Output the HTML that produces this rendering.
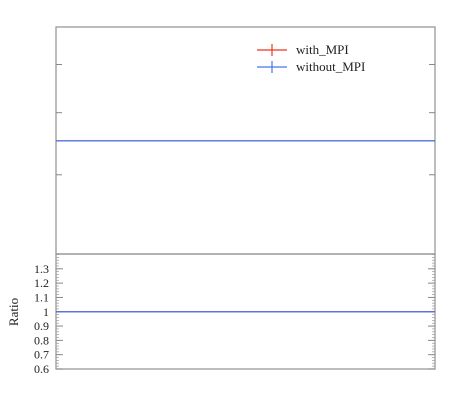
<!DOCTYPE html>
<html><head><meta charset="utf-8"><style>
html,body{margin:0;padding:0;background:#fff}
svg{display:block;font-family:"Liberation Serif",serif}
</style></head><body>
<svg id="chart" width="450" height="407">
<g id="g"></g>
</svg>
<script>
const seriesNames=["with_MPI","without_MPI"];
const seriesColors=["#ee3322","#4477ee"];
const mainValues=[3.51,3.51];
const mainTicks=[5,4,3];
const ratioValues=[1,1];
const ratioTicks=[0.6,0.7,0.8,0.9,1,1.1,1.2,1.3];
const ratioTickLabels=["0.6","0.7","0.8","0.9","1","1.1","1.2","1.3"];
const L=56,R=435,T=27,M=254,B=369;
const yMain=v=>411.9-497*Math.log10(v);
const yRatio=v=>369-(v-0.6)*(369-254.5)/0.8;
const g=document.getElementById('g');const NS="http://www.w3.org/2000/svg";
function el(t,a,p){const e=document.createElementNS(NS,t);for(const k in a)e.setAttribute(k,a[k]);(p||g).appendChild(e);return e;}
// frames
let f1=el('rect',{x:L,y:T,width:R-L,height:M-T,fill:'none',stroke:'#999','stroke-width':1.3});


let f2=el('rect',{x:L,y:M,width:R-L,height:B-M,fill:'none',stroke:'#999','stroke-width':1.3});


// main ticks
mainTicks.forEach(v=>{const y=yMain(v);
 let a=el('line',{x1:L,x2:L+6,y1:y,y2:y,stroke:'#888'});
 
 
 let b=el('line',{x1:R-6,x2:R,y1:y,y2:y,stroke:'#888'});
 
 });
// ratio minor ticks
for(let i=0;i<=40;i++){const v=0.6+i*0.02;const y=yRatio(v);
 let a=el('line',{x1:L,x2:L+3,y1:y,y2:y,stroke:'#999','stroke-width':0.7});
 
 
 let b=el('line',{x1:R-3,x2:R,y1:y,y2:y,stroke:'#999','stroke-width':0.7});
 
 }
ratioTicks.forEach((v,i)=>{const y=yRatio(v);
 let a=el('line',{x1:L,x2:L+7,y1:y,y2:y,stroke:'#888'});
 
 
 let b=el('line',{x1:R-7,x2:R,y1:y,y2:y,stroke:'#888'});
 
 
 let t=el('text',{x:49,y:y+4,'text-anchor':'end','font-size':12,fill:'#222'});t.textContent=ratioTickLabels[i];
 
 });
let yl=el('text',{x:0,y:0,transform:'translate(18,312) rotate(-90)','text-anchor':'middle','font-size':13,fill:'#222'});yl.textContent="Ratio";


// series lines
seriesNames.forEach((n,i)=>{
 let l=el('line',{x1:L,x2:R,y1:yMain(mainValues[i]),y2:yMain(mainValues[i]),stroke:seriesColors[i],'stroke-width':1.3});
 
 
 let r=el('line',{x1:L,x2:R,y1:yRatio(ratioValues[i]),y2:yRatio(ratioValues[i]),stroke:seriesColors[i],'stroke-width':1.3});
 
 
 const ly=50+i*17;
 let lg=el('g',{});
 
 
 el('line',{x1:257,x2:287,y1:ly,y2:ly,stroke:seriesColors[i],'stroke-width':1.2},lg);
 el('line',{x1:272,x2:272,y1:ly-6,y2:ly+6,stroke:seriesColors[i],'stroke-width':1.2},lg);
 let t=el('text',{x:296,y:ly+4,'font-size':13,fill:'#222'},lg);t.textContent=n;});
</script>
</body></html>
